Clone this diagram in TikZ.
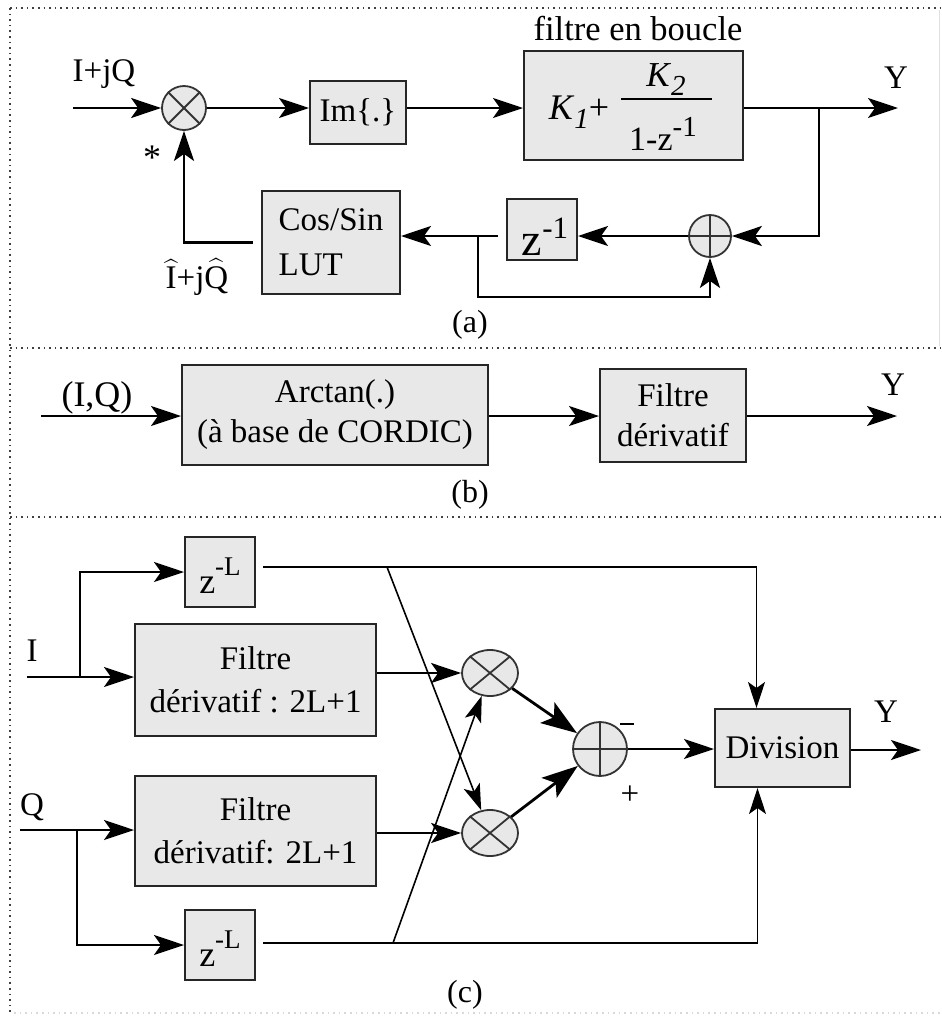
\documentclass[tikz,border=0pt]{standalone}
\usepackage{amsmath}
\usepackage{fontspec}
\setmainfont{Liberation Serif}
\usetikzlibrary{arrows.meta,shapes.geometric,calc}
\definecolor{boxgray}{HTML}{E8E8E8}
\newcommand\FS{\fontsize{33}{40}\selectfont}
\newcommand\FM{\fontsize{33}{36}\selectfont}
\begin{document}
\begin{tikzpicture}[x=1pt,y=-1pt,
 blk/.style={draw=black!85, fill=boxgray, line width=2pt, inner sep=0pt, align=center, font=\FS},
 wire/.style={line width=2.4pt},
 arr/.style={wire, -{Stealth[length=30pt,width=20pt,inset=7pt]}},
 thinw/.style={line width=1.6pt},
 tarr/.style={thinw, -{Stealth[length=26pt,width=17pt,inset=6pt]}},
 barr/.style={line width=2.8pt, -{Stealth[length=36pt,width=25pt,inset=8pt]}},
 sumc/.style={circle, draw=black!80, fill=boxgray, line width=1.8pt, inner sep=0pt},
 mulc/.style={ellipse, draw=black!80, fill=boxgray, line width=1.8pt, inner sep=0pt},
 lbl/.style={inner sep=0pt, font=\FS},
 frame/.style={line width=2.2pt, black!75, dash pattern=on 1.6pt off 4pt}
]
\useasboundingbox (0,0) rectangle (942,1018);
% frame
\draw[frame] (10,8) -- (942,8);
\draw[frame] (10,8) -- (10,1012);
\draw[frame] (10,348) -- (942,348);
\draw[frame] (10,517) -- (942,517);
\draw[line width=1.5pt, gray!30, dash pattern=on 1.6pt off 4pt] (14,1013) -- (942,1013);
\draw[line width=1pt, gray!25] (939,10) -- (939,346);

% ===== (a) =====
\node[sumc, minimum size=44pt] (m0) at (184,108) {};
\draw[line width=1.8pt, black!80] (m0.north west) -- (m0.south east) (m0.north east) -- (m0.south west);
\coordinate (inA) at (73,108);
\node[lbl, font=\FM] (lIQ) at (104,74) {I+jQ};
\draw[arr] (inA) -- (m0.west);
\node[blk, minimum width=96pt, minimum height=63pt] (im) at (358,112.5) {Im\{.\}};
\draw[arr] (m0.east) -- (im.west |- m0.east);
\node[blk, minimum width=219pt, minimum height=109pt] (fb) at (633.5,105.5) {};
\node[lbl, font=\fontsize{36}{36}\selectfont] (k1) at (579,112) {\textit{K}\raisebox{-9pt}{\fontsize{29}{29}\selectfont\textit{1}}+};
\node[lbl, font=\fontsize{35}{35}\selectfont] (k2) at (666,80) {\textit{K}\raisebox{-9pt}{\fontsize{29}{29}\selectfont\textit{2}}};
\draw[line width=2pt] (621,99) -- (712,99);
\node[lbl, font=\fontsize{34}{34}\selectfont] (den) at (663,134) {1-z\raisebox{14pt}{\fontsize{29}{29}\selectfont -1}};
\node[lbl, font=\fontsize{34.5}{34.5}\selectfont] (fl) at (638,29) {filtre en boucle};
\draw[arr] (im.east |- m0.east) -- (fb.west |- m0.east);
\coordinate (yA) at (898,108);
\draw[arr] (fb.east |- m0.east) -- (yA);
\node[lbl] (Ya) at (896,78) {Y};
\coordinate (br1) at (819,108);
\node[sumc, minimum size=42pt] (a1) at (710,236) {};
\draw[line width=1.8pt, black!80] (a1.north) -- (a1.south) (a1.west) -- (a1.east);
\draw[arr] (br1) |- (a1.east);
\node[blk, minimum width=70pt, minimum height=61pt] (zd) at (542,229.5) {};
\node[inner sep=0pt, anchor=base] (zdt) at (545,255) {\fontsize{46}{46}\selectfont z\raisebox{17pt}{\fontsize{31}{31}\selectfont -1}};
\draw[arr] (a1.west) -- (zd.east |- a1.west);
\node[blk, minimum width=138pt, minimum height=103pt, align=left, font=\fontsize{33}{45}\selectfont] (lut) at (331,242.5) {Cos/Sin\\LUT};
\draw[arr] ([xshift=-8pt]zd.west |- a1.west) -- (lut.east |- a1.west);
\coordinate (br2) at (478,236);
\draw[arr] (br2) -- ++(0,61) -| (a1.south);
\draw[arr] ([xshift=-8pt]lut.west) -| (m0.south);
\node[lbl, font=\fontsize{36}{36}\selectfont] (star) at (152,158) {*};
\node[lbl, font=\FM] (hat) at (197,277) {$\widehat{\text{I}}$+j$\widehat{\text{Q}}$};
\node[lbl, font=\fontsize{32}{32}\selectfont] (ca) at (470,325) {(a)};

% ===== (b) =====
\node[blk, minimum width=306pt, minimum height=100pt] (arc) at (335,415) {Arctan(.)\\(à base de CORDIC)};
\node[blk, minimum width=146pt, minimum height=93pt] (fd) at (673,415.5) {Filtre\\dérivatif};
\coordinate (inB) at (41,416);
\node[lbl, font=\fontsize{36}{36}\selectfont] (lIQb) at (97,398) {(I,Q)};
\draw[arr] (inB) -- (arc.west |- inB);
\draw[arr] (arc.east |- inB) -- (fd.west |- inB);
\coordinate (yB) at (897,416);
\draw[arr] (fd.east |- inB) -- (yB);
\node[lbl] (Yb) at (893,385) {Y};
\node[lbl, font=\fontsize{32}{32}\selectfont] (cb) at (470,495) {(b)};

% ===== (c) =====
\node[blk, minimum width=70pt, minimum height=70pt] (zt) at (220,572) {};
\node[inner sep=0pt, anchor=base] (ztt) at (220,593) {\fontsize{36}{36}\selectfont z\raisebox{18pt}{\fontsize{27}{27}\selectfont -L}};
\node[blk, minimum width=241pt, minimum height=112pt, font=\fontsize{33}{43}\selectfont] (fI) at (255.5,680) {Filtre\\dérivatif : 2L+1};
\node[blk, minimum width=241pt, minimum height=110pt, font=\fontsize{33}{43}\selectfont] (fQ) at (255.5,831) {Filtre\\dérivatif: 2L+1};
\node[blk, minimum width=70pt, minimum height=70pt] (zb) at (220,945) {};
\node[inner sep=0pt, anchor=base] (zbt) at (220,966) {\fontsize{36}{36}\selectfont z\raisebox{18pt}{\fontsize{27}{27}\selectfont -L}};
\node[mulc, minimum width=56pt, minimum height=46pt] (mt) at (490,673) {};
\draw[line width=1.8pt, black!80] (mt.north west) -- (mt.south east) (mt.north east) -- (mt.south west);
\node[mulc, minimum width=56pt, minimum height=46pt] (mb) at (490,833) {};
\draw[line width=1.8pt, black!80] (mb.north west) -- (mb.south east) (mb.north east) -- (mb.south west);
\node[sumc, minimum size=54pt] (ad) at (600,749) {};
\draw[line width=1.8pt, black!80] (ad.north) -- (ad.south) (ad.west) -- (ad.east);
\node[blk, minimum width=135pt, minimum height=78pt] (div) at (782.5,748) {Division};

\coordinate (inI) at (27,677);
\node[lbl] (lI) at (32,651) {I};
\draw[arr] (inI) -- (fI.west |- inI);
\coordinate (bI) at (80,677);
\draw[arr] (bI) |- (zt.west);
\draw[arr] (fI.east |- mt) -- (mt.west);

\coordinate (inQ) at (20,830);
\node[lbl] (lQ) at (32,807) {Q};
\draw[arr] (inQ) -- (fQ.west |- inQ);
\coordinate (bQ) at (77,830);
\draw[arr] (bQ) |- (zb.west);
\draw[arr] (fQ.east |- mb) -- (mb.west);

\coordinate (ztO) at (263,567);
\draw[tarr] (ztO) -| ([xshift=-26pt]div.north);
\coordinate (zbO) at (263,943);
\draw[tarr] (zbO) -| ([xshift=-25pt]div.south);
\coordinate (x1) at (387,567);
\coordinate (x2) at (393,943);
\draw[tarr] (x1) -- (mb);
\draw[tarr] (x2) -- (mt);
\draw[barr] (mt) -- (ad);
\draw[barr] (mb) -- (ad);
\draw[arr] (ad.east) -- (div.west |- ad.east);
\coordinate (yC) at (921,750);
\draw[arr] (div.east |- yC) -- (yC);
\node[lbl] (Yc) at (886,712) {Y};
\draw[line width=1.6pt] (620,724) -- (634,724);
\node[lbl, font=\fontsize{33}{33}\selectfont] (plus) at (630,795) {+};
\node[lbl, font=\fontsize{32}{32}\selectfont] (cc) at (465,995) {(c)};
\end{tikzpicture}
\end{document}
